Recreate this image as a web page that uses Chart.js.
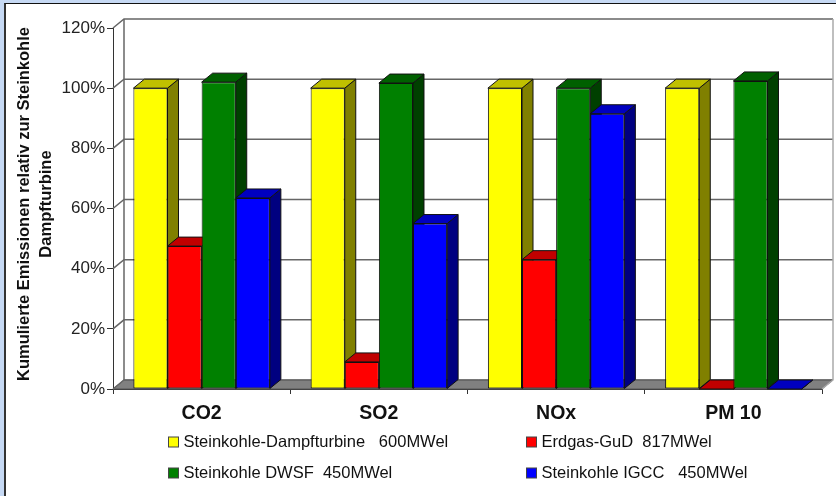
<!DOCTYPE html>
<html>
<head>
<meta charset="utf-8">
<script src="https://cdn.jsdelivr.net/npm/chart.js@4"></script>
<style>
    html, body { margin: 0; padding: 0; width: 836px; height: 496px; overflow: hidden; background: #c6d9f4; }
    #panel { position: absolute; left: 4px; top: 3px; right: 0; bottom: 0; background: #fff; border-left: 2px solid #333; border-top: 1px solid #111; }
    #emissions { position: absolute; left: 0; top: 0; }
</style>
</head>
<body>
<div id="panel"></div>
<canvas id="emissions" width="836" height="496"></canvas>
<script>
const categories = ["CO2", "SO2", "NOx", "PM 10"];
const seriesNames = [
    "Steinkohle-Dampfturbine   600MWel",
    "Erdgas-GuD  817MWel",
    "Steinkohle DWSF  450MWel",
    "Steinkohle IGCC   450MWel",
];
const yTitleLines = ["Kumulierte Emissionen relativ zur Steinkohle", "Dampfturbine"];
const dampfturbine = [100, 100, 100, 100];
const erdgasGud = [47.5, 9, 43, 0];
const dwsf = [102, 101.7, 100, 102.4];
const igcc = [63.5, 55, 91.5, 0];

const frontColors = ["#ffff00", "#ff0000", "#008000", "#0000ff"];
const sideColors = ["#808000", "#800000", "#004000", "#000080"];
const topColors = ["#c0c000", "#c00000", "#006000", "#0000c0"];

const fontName = '"Liberation Sans", Arial, sans-serif';
const depthX = 11;
const depthY = 9;

const polygon = (ctx, points, fill, stroke) => {
    ctx.beginPath();
    points.forEach((p, i) => i ? ctx.lineTo(p[0], p[1]) : ctx.moveTo(p[0], p[1]));
    ctx.closePath();
    if (fill) {
        ctx.fillStyle = fill;
        ctx.fill();
    }
    if (stroke) {
        ctx.strokeStyle = stroke;
        ctx.stroke();
    }
}

// back wall, floor and the 3d part of the bars go under the chart.js bars
const depthPlugin = {
    id: "depth",
    beforeDatasetsDraw(chart) {
        const ctx = chart.ctx;
        const { left, right, bottom } = chart.chartArea;
        const yScale = chart.scales.y;
        ctx.save();

        polygon(ctx, [[left, bottom], [left + depthX, bottom - depthY], [right + depthX, bottom - depthY], [right, bottom]], "#808080", "#555");

        ctx.lineWidth = 1.5;
        ctx.strokeStyle = "#666";
        yScale.ticks.forEach(tick => {
            const y = yScale.getPixelForValue(tick.value);
            ctx.beginPath();
            ctx.moveTo(left, y);
            ctx.lineTo(left + depthX, y - depthY);
            ctx.lineTo(right + depthX, y - depthY);
            ctx.stroke();
        });
        const wallTop = yScale.getPixelForValue(120) - depthY;
        ctx.beginPath();
        ctx.moveTo(left + depthX, wallTop);
        ctx.lineTo(left + depthX, bottom - depthY);
        ctx.stroke();
        ctx.strokeStyle = "#aaa";
        ctx.beginPath();
        ctx.moveTo(right + depthX, wallTop);
        ctx.lineTo(right + depthX, bottom - depthY);
        ctx.lineTo(right, bottom);
        ctx.stroke();

        ctx.lineWidth = 1;
        categories.forEach((_, index) => {
            chart.data.datasets.forEach((_, datasetIndex) => {
                const bar = chart.getDatasetMeta(datasetIndex).data[index];
                const x0 = bar.x - bar.width / 2;
                const x1 = bar.x + bar.width / 2;
                polygon(ctx, [[x1, bar.y], [x1 + depthX, bar.y - depthY], [x1 + depthX, bar.base - depthY], [x1, bar.base]], sideColors[datasetIndex], "#111");
                polygon(ctx, [[x0, bar.y], [x0 + depthX, bar.y - depthY], [x1 + depthX, bar.y - depthY], [x1, bar.y]], topColors[datasetIndex], "#111");
            });
        });
        ctx.restore();
    },
};

const legendPlugin = {
    id: "twoRowLegend",
    afterDraw(chart) {
        const ctx = chart.ctx;
        const columns = [168, 526];
        const rows = [442, 473];
        ctx.save();
        ctx.font = "16.5px " + fontName;
        ctx.textBaseline = "middle";
        chart.data.datasets.forEach((dataset, i) => {
            const x = columns[i % 2];
            const y = rows[Math.floor(i / 2)];
            ctx.fillStyle = dataset.backgroundColor;
            ctx.strokeStyle = "#444";
            ctx.fillRect(x + 0.5, y - 5, 10, 10);
            ctx.strokeRect(x + 0.5, y - 5, 10, 10);
            ctx.fillStyle = "#111";
            ctx.fillText(dataset.label, x + 15.5, y);
        });
        ctx.restore();
    },
};

// built-in axis title can't sit off centre, the original is a bit above the middle
const yTitlePlugin = {
    id: "yTitle",
    afterDraw(chart) {
        const ctx = chart.ctx;
        const lineX = [24, 46];
        ctx.save();
        ctx.font = "bold 16.5px " + fontName;
        ctx.fillStyle = "#111";
        ctx.textAlign = "center";
        ctx.textBaseline = "middle";
        yTitleLines.forEach((line, i) => {
            ctx.save();
            ctx.translate(lineX[i], 204);
            ctx.rotate(-Math.PI / 2);
            ctx.fillText(line, 0, 0);
            ctx.restore();
        });
        ctx.restore();
    },
};

new Chart(document.getElementById("emissions"), {
    type: "bar",
    data: {
        labels: categories,
        datasets: [dampfturbine, erdgasGud, dwsf, igcc].map((values, i) => ({
            label: seriesNames[i],
            data: values,
            backgroundColor: frontColors[i],
            borderColor: "#111",
            borderWidth: 1,
            borderSkipped: false,
        })),
    },
    options: {
        responsive: false,
        animation: false,
        devicePixelRatio: 1,
        layout: { padding: { top: 28, right: 14, left: 10, bottom: 0 } },
        categoryPercentage: 0.77,
        barPercentage: 1,
        plugins: {
            legend: { display: false },
            tooltip: { enabled: false },
        },
        scales: {
            x: {
                afterFit: scale => { scale.height = 107; },
                grid: { drawOnChartArea: false, tickLength: 5, color: "#333" },
                border: { color: "#333" },
                ticks: {
                    color: "#111",
                    padding: 8,
                    maxRotation: 0,
                    font: { family: fontName, size: 19.5, weight: "bold" },
                },
            },
            y: {
                min: 0,
                max: 120,
                afterFit: scale => { scale.width = 103; },
                grid: { drawOnChartArea: false, tickLength: 6, color: "#333" },
                border: { color: "#333" },
                ticks: {
                    stepSize: 20,
                    color: "#222",
                    padding: 2,
                    font: { family: fontName, size: 17 },
                    callback: value => value + "%",
                },
            },
        },
    },
    plugins: [depthPlugin, legendPlugin, yTitlePlugin],
});
</script>
</body>
</html>
